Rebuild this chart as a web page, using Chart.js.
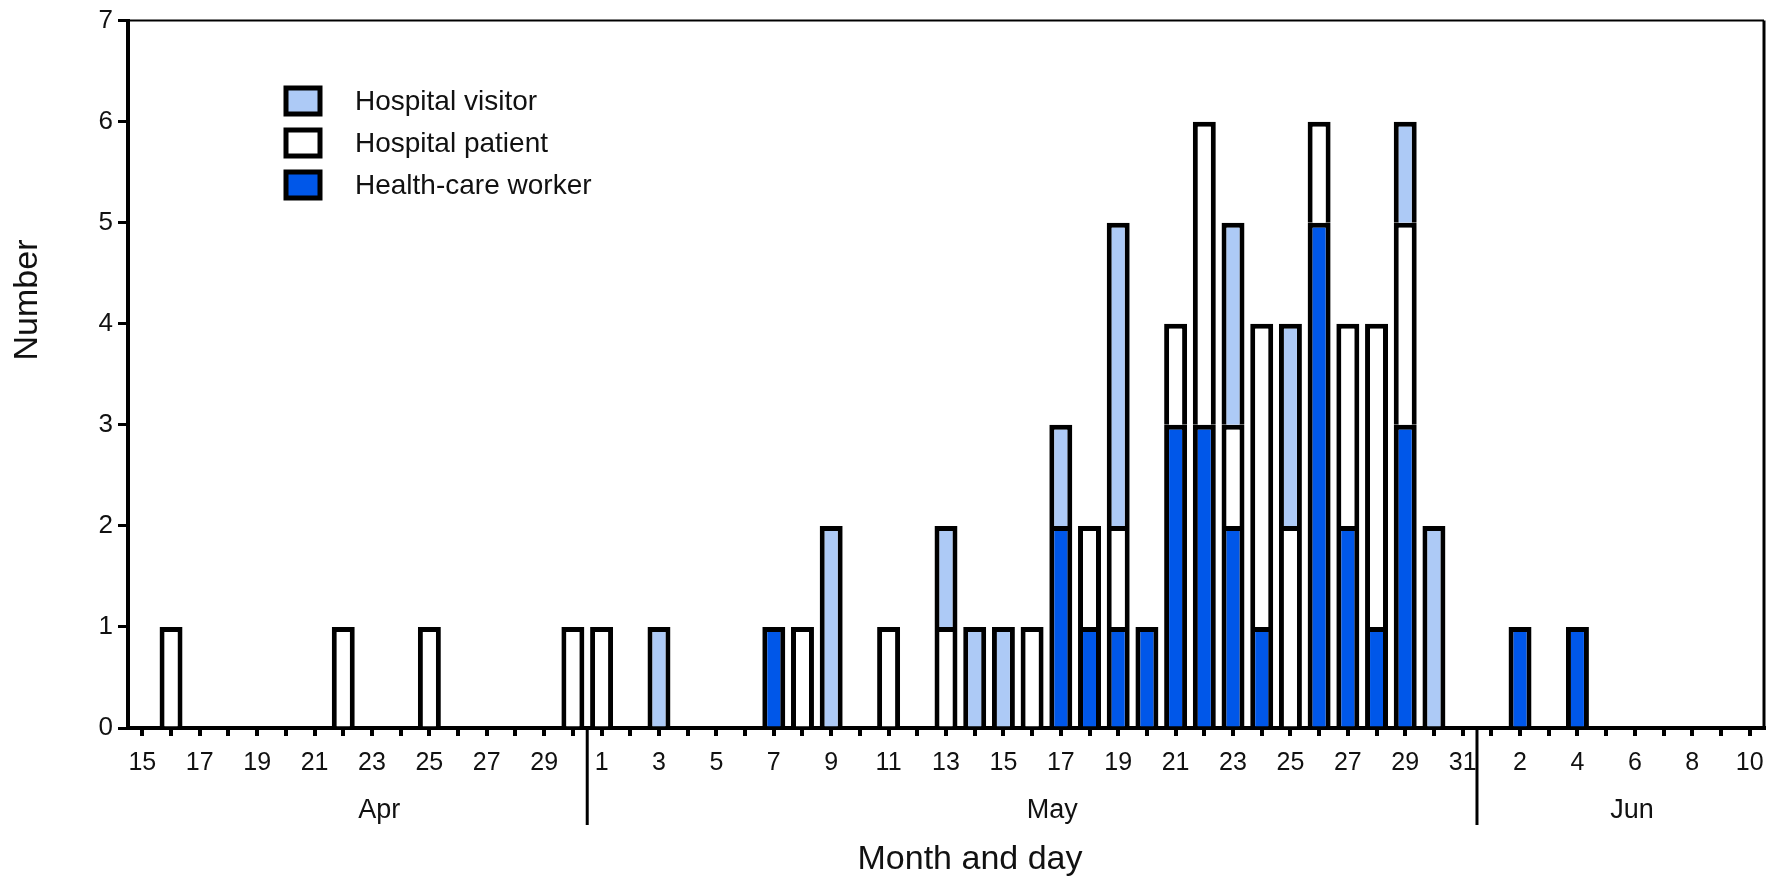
<!DOCTYPE html>
<html>
<head>
<meta charset="utf-8">
<script src="https://cdn.jsdelivr.net/npm/chart.js@4.4.1/dist/chart.umd.min.js"></script>
<style>
  html, body { margin: 0; padding: 0; background: #fff; }
  canvas { display: block; }
</style>
</head>
<body>
<canvas id="grafico" width="1776" height="878"></canvas>
<script>
// days Apr 15 - Jun 10
const dias = [15,16,17,18,19,20,21,22,23,24,25,26,27,28,29,30,
  1,2,3,4,5,6,7,8,9,10,11,12,13,14,15,16,17,18,19,20,21,22,23,24,25,26,27,28,29,30,31,
  1,2,3,4,5,6,7,8,9,10]
const meses = ['Apr','May','Jun']
const inicioMes = [0,16,47]
const yTicks = [0,1,2,3,4,5,6,7]

const seriesNomes = ['Health-care worker','Hospital patient','Hospital visitor']

const trabalhador = [0,0,0,0,0,0,0,0,0,0,0,0,0,0,0,0,
  0,0,0,0,0,0,1,0,0,0,0,0,0,0,0,0,2,1,1,1,3,3,2,1,0,5,2,1,3,0,0,
  0,1,0,1,0,0,0,0,0,0]
const paciente = [0,1,0,0,0,0,0,1,0,0,1,0,0,0,0,1,
  1,0,0,0,0,0,0,1,0,0,1,0,1,0,0,1,0,1,1,0,1,3,1,3,2,1,2,3,2,0,0,
  0,0,0,0,0,0,0,0,0,0]
const visitante = [0,0,0,0,0,0,0,0,0,0,0,0,0,0,0,0,
  0,0,1,0,0,0,0,0,2,0,0,0,1,1,1,0,1,0,3,0,0,0,2,0,2,0,0,0,1,2,0,
  0,0,0,0,0,0,0,0,0,0]

const cores = ['#0057e9','#ffffff','#adcaf6']
const fonte = '"Liberation Sans", Arial, Helvetica, sans-serif'

// zero values -> null so no empty bars get drawn
const limpa = arr => arr.map(v => v === 0 ? null : v)

const extras = {
  id: 'extras',
  afterDraw(chart){
    const c = chart.ctx
    const a = chart.chartArea
    const x = chart.scales.x
    c.save()
    c.strokeStyle = '#000'
    // frame top & right
    c.lineWidth = 2
    c.beginPath(); c.moveTo(a.left, a.top); c.lineTo(a.right, a.top); c.stroke()
    c.lineWidth = 3
    c.beginPath(); c.moveTo(a.right, a.top); c.lineTo(a.right, a.bottom); c.stroke()

    // month separators
    c.lineWidth = 3
    for(let m = 1; m < inicioMes.length; m++){
      const px = (x.getPixelForValue(inicioMes[m]-1) + x.getPixelForValue(inicioMes[m]))/2
      c.beginPath(); c.moveTo(px, a.bottom); c.lineTo(px, a.bottom + 97); c.stroke()
    }

    // month labels
    c.fillStyle = '#111'
    c.font = '27px ' + fonte
    c.textAlign = 'center'
    c.textBaseline = 'middle'
    const posMes = [8.25, 31.7, 51.9]
    meses.forEach((m, i) => {
      const px = x.left + (posMes[i] + 0.5) * (x.width / dias.length)
      c.fillText(m, px, 811)
    })

    // axis titles
    c.font = '34px ' + fonte
    c.fillText('Month and day', 970, 860)
    c.save()
    c.translate(28, 300)
    c.rotate(-Math.PI/2)
    c.fillText('Number', 0, 0)
    c.restore()

    // legend (top entry = top of stack)
    c.font = '28px ' + fonte
    c.textAlign = 'left'
    const ordem = [2,1,0]
    ordem.forEach((s, k) => {
      const y = 88 + k * 42
      c.fillStyle = cores[s]
      c.fillRect(286, y, 34, 26)
      c.lineWidth = 5
      c.strokeStyle = '#000'
      c.strokeRect(286, y, 34, 26)
      c.fillStyle = '#111'
      c.fillText(seriesNomes[s], 355, y + 14)
    })
    c.restore()
  }
}

const ctx = document.querySelector('#grafico')

const grafico = new Chart(ctx, {
  type: 'bar',
  data: {
    labels: dias,
    datasets: [
      { label: seriesNomes[0], data: limpa(trabalhador), backgroundColor: cores[0] },
      { label: seriesNomes[1], data: limpa(paciente), backgroundColor: cores[1] },
      { label: seriesNomes[2], data: limpa(visitante), backgroundColor: cores[2] }
    ].map(d => Object.assign(d, {
      borderColor: '#000',
      borderWidth: 5,
      barPercentage: 0.8,
      categoryPercentage: 1
    }))
  },
  options: {
    responsive: false,
    animation: false,
    layout: { padding: { left: 0, right: 12, top: 17, bottom: 0 } },
    plugins: {
      legend: { display: false },
      tooltip: { enabled: false }
    },
    scales: {
      x: {
        stacked: true,
        afterFit: s => { s.height = 150 },
        border: { color: '#000', width: 4 },
        grid: { offset: false, drawOnChartArea: false, color: '#000', lineWidth: 4, tickLength: 8 },
        ticks: {
          autoSkip: false,
          maxRotation: 0,
          padding: 12,
          color: '#111',
          font: { family: fonte, size: 25 },
          callback: (v, i) => i % 2 === 0 ? String(dias[i]) : ''
        }
      },
      y: {
        stacked: true,
        min: yTicks[0],
        max: yTicks[yTicks.length - 1],
        afterFit: s => { s.width = 128 },
        afterBuildTicks: s => { s.ticks = yTicks.map(v => ({ value: v })) },
        border: { color: '#000', width: 4 },
        grid: { drawOnChartArea: false, color: '#000', lineWidth: 3, tickLength: 10 },
        ticks: {
          padding: 5,
          color: '#111',
          font: { family: fonte, size: 26 }
        }
      }
    }
  },
  plugins: [extras]
})
</script>
</body>
</html>
